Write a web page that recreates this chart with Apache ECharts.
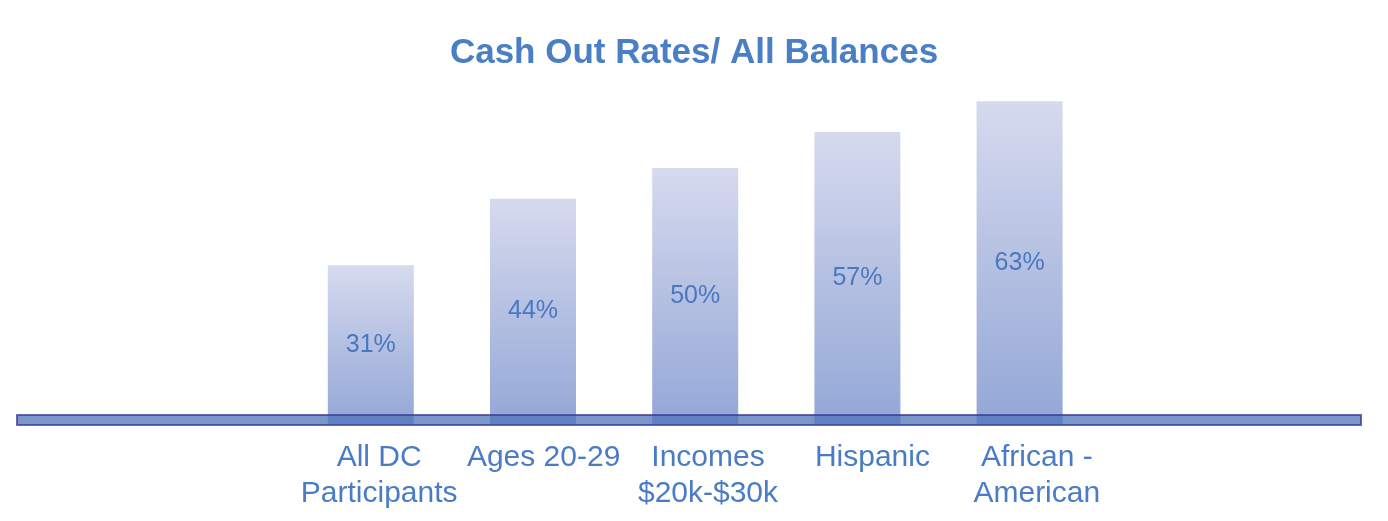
<!DOCTYPE html>
<html>
<head>
<meta charset="utf-8">
<script src="https://cdn.jsdelivr.net/npm/echarts@6/dist/echarts.min.js"></script>
<style>html,body{margin:0;padding:0;background:#fff}#c{width:1388px;height:521px}</style>
</head>
<body>
<div id="c"></div>
<script>
const titleText = 'Cash Out Rates/ All Balances';
const categories = ['All DC\nParticipants', 'Ages 20-29', 'Incomes\n$20k-$30k', 'Hispanic', 'African -\nAmerican'];
const cashOutRates = [31, 44, 50, 57, 63];

const FONT = "'Liberation Sans', Arial, sans-serif";
const chart = echarts.init(document.getElementById('c'), null, {renderer: 'canvas'});
chart.setOption({
  animation: false,
  backgroundColor: '#ffffff',
  title: {
    text: titleText, left: 'center', top: 31,
    textStyle: {fontFamily: FONT, fontSize: 35, fontWeight: 'bold', color: '#4A7EC5'}
  },
  grid: [
    {left: 289.7, width: 811, top: 65.5, height: 358.5},
    {left: 297, width: 822, top: 65.5, height: 358.5},
    {left: 17, right: 27, top: 415, height: 10, show: true, z: 10,
     backgroundColor: 'rgba(78,115,187,0.75)', borderColor: 'rgba(58,58,150,0.75)', borderWidth: 2}
  ],
  xAxis: [
    {type: 'category', gridIndex: 0, data: categories, axisLine: {show: false}, axisTick: {show: false}, axisLabel: {show: false}},
    {type: 'category', gridIndex: 1, data: categories, axisLine: {show: false}, axisTick: {show: false},
     axisLabel: {interval: 0, margin: 16, fontFamily: FONT, fontSize: 30, lineHeight: 36, color: '#4A7BC6'}},
    {type: 'category', gridIndex: 2, data: [''], show: false}
  ],
  yAxis: [
    {type: 'value', gridIndex: 0, min: 0, max: 70, show: false, splitLine: {show: false}},
    {type: 'value', gridIndex: 1, min: 0, max: 70, show: false, splitLine: {show: false}},
    {type: 'value', gridIndex: 2, min: 0, max: 1, show: false, splitLine: {show: false}}
  ],
  series: [{
    type: 'bar', xAxisIndex: 0, yAxisIndex: 0, data: cashOutRates, barWidth: 86,
    itemStyle: {
      color: new echarts.graphic.LinearGradient(0, 0, 0, 1, [
        {offset: 0, color: '#D6DAEE'},
        {offset: 1, color: '#93A7D6'}
      ])
    },
    label: {
      show: true, position: 'inside', formatter: '{c}%',
      fontFamily: FONT, fontSize: 25, color: '#4A78C0'
    }
  }]
});
</script>
</body>
</html>
